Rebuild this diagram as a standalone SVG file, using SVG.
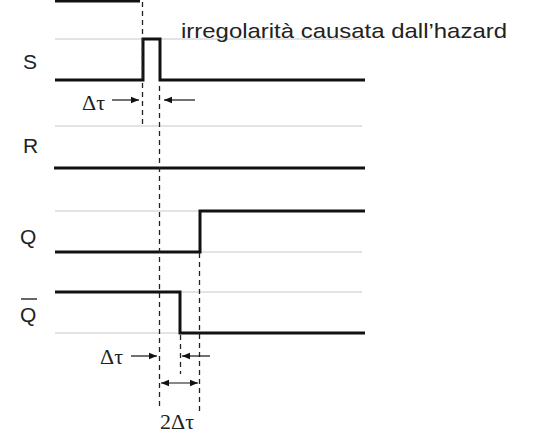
<svg xmlns="http://www.w3.org/2000/svg" width="534" height="443" viewBox="0 0 534 443">
<defs>
<marker id="ah" viewBox="0 0 10 10" refX="10" refY="5" markerWidth="8" markerHeight="8" markerUnits="userSpaceOnUse" orient="auto-start-reverse">
<path d="M0,1 L10,5 L0,9 Z" fill="#111"/>
</marker>
</defs>
<style>
.grid{stroke:#c8c8c8;stroke-width:1;fill:none}
.sig{stroke:#111;stroke-width:3;fill:none;stroke-linejoin:miter}
.dash{stroke:#222;stroke-width:1.3;stroke-dasharray:5 4;fill:none}
.arr{stroke:#111;stroke-width:1.2;fill:none}
.lbl{font-family:"Liberation Sans",Arial,sans-serif;font-size:21px;fill:#222}
.grk{font-family:"Liberation Serif","Times New Roman",serif;font-size:22px;fill:#222}
</style>
<rect width="534" height="443" fill="#fff"/>
<g id="grid">
<line class="grid" x1="55" y1="39" x2="362" y2="39"/>
<line class="grid" x1="55" y1="126" x2="362" y2="126"/>
<line class="grid" x1="55" y1="211" x2="362" y2="211"/>
<line class="grid" x1="55" y1="252" x2="362" y2="252"/>
<line class="grid" x1="55" y1="292" x2="362" y2="292"/>
<line class="grid" x1="55" y1="333" x2="362" y2="333"/>
</g>
<g id="top-trace"><line class="sig" x1="55" y1="1" x2="140" y2="1"/></g>
<g id="S">
<text class="lbl" x="23" y="69">S</text>
<polyline class="sig" points="55,80 143,80 143,39 160,39 160,80 365,80"/>
</g>
<g id="R">
<text class="lbl" x="23" y="153">R</text>
<line class="sig" x1="54" y1="168" x2="365" y2="168"/>
</g>
<g id="Q">
<text class="lbl" x="20" y="244">Q</text>
<polyline class="sig" points="55,252 200,252 200,211 365,211"/>
</g>
<g id="Qbar">
<text class="lbl" x="20" y="322">Q</text>
<line x1="21" y1="299" x2="37" y2="299" stroke="#333" stroke-width="1.5"/>
<polyline class="sig" points="55,292 180,292 180,333 365,333"/>
</g>
<g id="hazard-label">
<text class="lbl" x="181" y="38" font-size="21" textLength="326" lengthAdjust="spacingAndGlyphs">irregolarità causata dall’hazard</text>
</g>
<g id="connectors">
<line class="dash" x1="142.5" y1="2" x2="142.5" y2="124"/>
<line class="dash" x1="159.5" y1="86" x2="159.5" y2="409"/>
<line class="dash" x1="199.5" y1="253" x2="199.5" y2="412"/>
<line class="dash" x1="180.5" y1="335" x2="180.5" y2="374"/>
<line class="arr" x1="112" y1="100" x2="139" y2="100" marker-end="url(#ah)"/>
<line class="arr" x1="195" y1="100" x2="164" y2="100" marker-end="url(#ah)"/>
<line class="arr" x1="131" y1="356" x2="157" y2="356" marker-end="url(#ah)"/>
<line class="arr" x1="210" y1="356" x2="182" y2="356" marker-end="url(#ah)"/>
<line class="arr" x1="161" y1="383" x2="198" y2="383" marker-start="url(#ah)" marker-end="url(#ah)"/>
</g>
<g id="delta-labels">
<text class="grk" x="82" y="110">Δτ</text>
<text class="grk" x="100" y="364">Δτ</text>
<text class="grk" x="160" y="429" font-size="24">2Δτ</text>
</g>
</svg>
